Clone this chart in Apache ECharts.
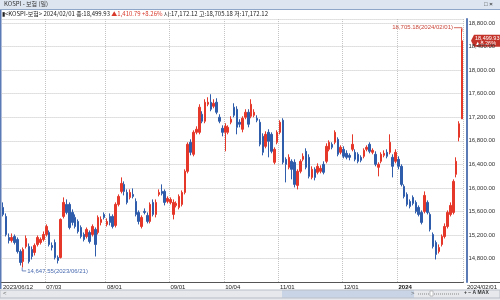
<!DOCTYPE html>
<html>
<head>
<meta charset="utf-8">
<script src="https://cdn.jsdelivr.net/npm/echarts@6/dist/echarts.min.js"></script>
<style>
html, body { margin: 0; padding: 0; background: #fff; }
#main { width: 500px; height: 300px; }
</style>
</head>
<body>
<div id="main"></div>
<script>
// trading days per month (KOSPI calendar)
var monthDays = [
    ['2023/06', [12,13,14,15,16,19,20,21,22,23,26,27,28,29,30]],
    ['2023/07', [3,4,5,6,7,10,11,12,13,14,17,18,19,20,21,24,25,26,27,28,31]],
    ['2023/08', [1,2,3,4,7,8,9,10,11,14,16,17,18,21,22,23,24,25,28,29,30,31]],
    ['2023/09', [1,4,5,6,7,8,11,12,13,14,15,18,19,20,21,22,25,26,27]],
    ['2023/10', [4,5,6,10,11,12,13,16,17,18,19,20,23,24,25,26,27,30,31]],
    ['2023/11', [1,2,3,6,7,8,9,10,13,14,15,16,17,20,21,22,23,24,27,28,29,30]],
    ['2023/12', [1,4,5,6,7,8,11,12,13,14,15,18,19,20,21,22,26,27,28]],
    ['2024/01', [2,3,4,5,8,9,10,11,12,15,16,17,18,19,22,23,24,25,26,29,30,31]],
    ['2024/02', [1]]
];

// x axis tick labels
var tickLabels = {
    '2023/06/12': '2023/06/12',
    '2023/07/03': '07/03',
    '2023/08/01': '08/01',
    '2023/09/01': '09/01',
    '2023/10/04': '10/04',
    '2023/11/01': '11/01',
    '2023/12/01': '12/01',
    '2024/01/02': '2024',
    '2024/02/01': '2024/02/01'
};

var opens = [
    15668,15515,15157,15106,15174,15123,14919,14749,15004,15004,
    14953,14902,15038,15072,15123,15208,15242,15021,15072,14817,
    14817,15515,15719,15719,15583,15498,15430,15327,15208,15174,
    15242,15208,15294,15242,15413,15549,15379,15515,15515,15362,
    15719,15940,16059,15923,15838,15889,15770,15583,15344,15600,
    15532,15430,15753,15549,15889,15940,15940,15770,15753,15549,
    15702,15668,15719,15923,16281,16774,16570,16944,16944,17251,
    17132,17421,17455,17387,17455,17200,17012,16944,16944,17115,
    17370,17336,17115,16996,17200,17285,17217,17234,17183,17115,
    16876,16706,16944,16910,16434,16774,16944,17149,16485,16349,
    16451,16434,16042,16281,16485,16621,16519,16178,16315,16264,
    16281,16400,16451,16655,16740,16774,16825,16604,16655,16587,
    16553,16655,16604,16570,16519,16536,16655,16740,16604,16570,
    16349,16451,16553,16604,16604,16519,16451,16485,16366,16025,
    15889,15770,15838,15753,15668,15583,15600,15753,15549,15208,
    15072,14919,15038,15174,15344,15549,15583,16230,16859,17172.12
];
var closes = [
    15549,15208,15106,15157,15072,14919,14732,14953,15140,14749,
    14834,15021,15157,15123,15208,15344,15038,14987,14817,14766,
    15464,15753,15583,15327,15413,15344,15259,15174,15123,15294,
    15089,15344,15038,15498,15464,15498,15430,15413,15344,15719,
    15855,16076,15940,15753,15923,15855,15549,15430,15498,15583,
    15430,15719,15549,15753,15923,15906,15753,15821,15804,15753,
    15736,15855,15923,16281,16740,16604,16944,16996,17370,17132,
    17455,17455,17336,17438,17285,17132,16944,17046,17029,17166,
    17234,17029,17081,17183,17285,17081,17421,17285,17149,16740,
    16604,16910,16791,16621,16655,16944,17115,16434,16400,16519,
    16315,16059,16281,16451,16536,16349,16196,16315,16178,16366,
    16332,16264,16706,16774,16689,16944,16570,16689,16536,16519,
    16519,16740,16485,16451,16468,16638,16689,16621,16638,16400,
    16400,16570,16587,16536,16774,16366,16604,16366,16059,15855,
    15719,15685,15736,15600,15549,15413,15872,15583,15294,15004,
    14868,14987,15174,15344,15583,15702,16110,16451,17089.14,18499.93
];
var lows = [
    15515,15174,15055,15072,15038,14885,14681,14647.55,14970,14715,
    14783,14851,15004,15038,15089,15174,15004,14936,14783,14715,
    14800,15481,15549,15294,15362,15310,15225,15140,15089,15140,
    15055,15174,14834,15208,15362,15464,15344,15362,15310,15327,
    15685,15906,15872,15719,15804,15821,15515,15379,15310,15549,
    15396,15396,15515,15498,15855,15872,15702,15736,15719,15464,
    15668,15634,15685,15889,16247,16553,16536,16910,16910,17098,
    17098,17387,17302,17353,17251,17098,16876,16621,16910,17081,
    17200,16910,17029,16944,17166,17029,17183,17200,17115,16706,
    16553,16672,16519,16587,16400,16740,16910,16400,16093,16315,
    16145,16008,15974,16247,16451,16315,16161,16145,16127,16230,
    16247,16230,16417,16621,16655,16740,16536,16570,16502,16485,
    16468,16621,16451,16417,16434,16502,16621,16587,16570,16366,
    16196,16417,16519,16502,16570,16178,16417,16315,16025,15821,
    15685,15651,15702,15566,15515,15379,15566,15549,15259,14970,
    14783,14885,15004,15140,15310,15515,15549,16178,16791,17172.12
];
var highs = [
    15753,15566,15225,15225,15208,15157,14953,14987,15191,15055,
    15004,15055,15191,15157,15259,15379,15276,15072,15123,14851,
    15481,15838,15804,15753,15634,15549,15464,15362,15242,15327,
    15276,15379,15327,15532,15515,15583,15481,15566,15549,15753,
    15889,16178,16110,15974,15974,15991,15821,15617,15532,15651,
    15583,15753,15804,15804,15974,16059,15974,15855,15838,15804,
    15770,15889,15957,16315,16774,16825,16978,17046,17421,17302,
    17506,17540,17591,17506,17523,17251,17063,17098,17063,17217,
    17438,17387,17166,17217,17336,17336,17506,17336,17234,17166,
    16927,16961,16996,16944,16689,16978,17149,17183,16519,16570,
    16485,16485,16315,16485,16587,16672,16570,16366,16349,16417,
    16383,16451,16757,16808,16774,16978,16859,16723,16706,16638,
    16587,16910,16655,16604,16553,16672,16723,16774,16672,16621,
    16434,16604,16638,16655,16910,16570,16655,16536,16400,16059,
    15923,15804,15872,15787,15702,15617,15940,15787,15583,15242,
    15106,15038,15208,15396,15617,15753,16145,16519,17132,18705.18
];

var dates = [];
monthDays.forEach(function (m) {
    m[1].forEach(function (d) {
        dates.push(m[0] + '/' + (d < 10 ? '0' + d : d));
    });
});

var candles = dates.map(function (d, i) {
    return [opens[i], closes[i], lows[i], highs[i]];
});

var RED = '#e5372a';
var BLUE = '#2f5cab';
var FONT = '"Noto Sans CJK KR", "Liberation Sans", sans-serif';
var NUMFONT = '"Liberation Sans", "DejaVu Sans", sans-serif';

function fmt(v) {
    return v.toLocaleString('en-US', {minimumFractionDigits: 2, maximumFractionDigits: 2});
}

var myChart = echarts.init(document.getElementById('main'));
var option = {
    animation: false,
    backgroundColor: '#fff',
    grid: { left: 1.5, right: 32, top: 19, bottom: 18 },
    xAxis: {
        type: 'category',
        data: dates,
        boundaryGap: true,
        axisLine: { lineStyle: { color: '#555', width: 1 } },
        axisTick: { inside: true, length: 2, interval: 3, lineStyle: { color: '#666' } },
        axisLabel: {
            interval: function (i, v) { return tickLabels[v] !== undefined; },
            formatter: function (v) {
                var t = tickLabels[v];
                if (t === '2024') return '{b|' + t + '}';
                if (v === '2024/02/01') return '{e|' + t + '}';
                return t;
            },
            align: 'left',
            margin: 2,
            fontSize: 6,
            fontFamily: NUMFONT,
            color: '#222',
            rich: {
                b: { fontSize: 6, fontWeight: 'bold', fontFamily: NUMFONT, color: '#111' },
                e: { fontSize: 6, fontFamily: NUMFONT, color: '#222', padding: [0, 0, 0, 5] }
            }
        },
        splitLine: {
            show: true,
            interval: function (i, v) {
                return tickLabels[v] !== undefined && i !== 0 && i !== dates.length - 1;
            },
            lineStyle: { type: 'dotted', color: '#c4c4c4' }
        }
    },
    yAxis: {
        type: 'value',
        position: 'right',
        offset: 3,
        min: 14400,
        max: 18870,
        interval: 400,
        axisLine: { show: true, lineStyle: { color: '#5a7bb5', width: 2 } },
        axisTick: { show: false },
        axisLabel: {
            showMinLabel: false,
            showMaxLabel: false,
            margin: 2,
            fontSize: 6,
            fontFamily: NUMFONT,
            color: '#333',
            formatter: fmt
        },
        splitLine: { lineStyle: { type: 'dotted', color: '#c4c4c4' } }
    },
    series: [{
        type: 'candlestick',
        data: candles,
        barWidth: 2,
        itemStyle: {
            color: RED,
            color0: BLUE,
            borderColor: RED,
            borderColor0: BLUE,
            borderWidth: 1
        }
    }],
    graphic: [
        // window title bar
        { type: 'rect', shape: { x: 0, y: 0, width: 500, height: 9 }, style: { fill: '#dce5f0' }, silent: true },
        { type: 'line', shape: { x1: 0, y1: 9.5, x2: 500, y2: 9.5 }, style: { stroke: '#8ea6c8', lineWidth: 1 } },
        { type: 'text', left: 4, top: 1, style: { text: 'KOSPI - 보험 (일)', font: '6px ' + FONT, fill: '#333' } },
        { type: 'text', left: 484, top: 1, style: { text: '□ ×', font: 'bold 6px ' + NUMFONT, fill: '#444' } },
        // info line
        {
            type: 'text', left: 2, top: 11,
            style: {
                text: '{k|▮<KOSPI-보험> 2024/02/01 종:18,499.93 }{r|▲1,410.79 +8.26%}{k| 시:17,172.12 고:18,705.18 저:17,172.12}',
                rich: {
                    k: { font: '6px ' + FONT, fill: '#222' },
                    r: { font: '6px ' + FONT, fill: '#d83a2c' }
                }
            }
        },
        // left window border
        { type: 'line', shape: { x1: 0.75, y1: 10, x2: 0.75, y2: 289 }, style: { stroke: '#5a7bb5', lineWidth: 1.5 } },
        // bottom axis continues under the y labels
        { type: 'line', shape: { x1: 470, y1: 282.5, x2: 500, y2: 282.5 }, style: { stroke: '#555', lineWidth: 1 } },
        // scroll bar
        { type: 'rect', shape: { x: 0, y: 290, width: 500, height: 10 }, style: { fill: '#e6e8ec' } },
        { type: 'rect', shape: { x: 282, y: 290, width: 132, height: 8 }, style: { fill: '#c9d5e6' } },
        { type: 'rect', shape: { x: 0, y: 290, width: 500, height: 8 }, style: { fill: 'none', stroke: '#b9bec6', lineWidth: 1 } },
        { type: 'text', left: 3, top: 290, style: { text: '<', font: '6px ' + NUMFONT, fill: '#666' } },
        { type: 'text', left: 411, top: 290, style: { text: '>', font: '6px ' + NUMFONT, fill: '#666' } },
        { type: 'line', shape: { x1: 418, y1: 294, x2: 460, y2: 294 }, style: { stroke: '#888', lineWidth: 1, lineDash: [1, 1] } },
        { type: 'rect', shape: { x: 430, y: 291, width: 3, height: 5 }, style: { fill: '#fff', stroke: '#888', lineWidth: 0.5 } },
        { type: 'text', left: 464, top: 290, style: { text: '+ − A MAX', font: 'bold 5px ' + NUMFONT, fill: '#333' } }
    ]
};
myChart.setOption(option);

// annotations positioned through the series' own coordinate system
var last = dates.length - 1;
var minIdx = 7;
var pHigh = myChart.convertToPixel({ seriesIndex: 0 }, [last, highs[last]]);
var pLow = myChart.convertToPixel({ seriesIndex: 0 }, [minIdx, lows[minIdx]]);
var pClose = myChart.convertToPixel({ seriesIndex: 0 }, [last, closes[last]]);

myChart.setOption({
    graphic: [
        {
            id: 'hiLine', type: 'polyline',
            shape: { points: [[pHigh[0] - 8, pHigh[1] - 1], [pHigh[0], pHigh[1] - 1], [pHigh[0], pHigh[1] + 3]] },
            style: { stroke: '#c9473a', lineWidth: 0.8, fill: 'none' }
        },
        {
            id: 'hiText', type: 'text', x: pHigh[0] - 9, y: pHigh[1] - 1,
            style: { text: fmt(highs[last]) + '(' + dates[last] + ')', font: '6px ' + NUMFONT, fill: '#c9473a', align: 'right', verticalAlign: 'middle' }
        },
        {
            id: 'loLine', type: 'polyline',
            shape: { points: [[pLow[0] - 1, pLow[1]], [pLow[0] - 1, pLow[1] + 3.5], [pLow[0] + 3, pLow[1] + 3.5]] },
            style: { stroke: '#4a6cb0', lineWidth: 0.8, fill: 'none' }
        },
        {
            id: 'loText', type: 'text', x: pLow[0] + 4, y: pLow[1] + 3.5,
            style: { text: fmt(lows[minIdx]) + '(' + dates[minIdx] + ')', font: '6px ' + NUMFONT, fill: '#4a6cb0', align: 'left', verticalAlign: 'middle' }
        },
        {
            id: 'curBox', type: 'polygon',
            shape: { points: [[471, pClose[1]], [474, pClose[1] - 6], [500, pClose[1] - 6], [500, pClose[1] + 6], [474, pClose[1] + 6]] },
            style: { fill: '#c4332a' }
        },
        {
            id: 'curText', type: 'text', x: 475, y: pClose[1] - 5.5,
            style: { text: fmt(closes[last]) + '\n▲8.26%', font: '5.5px ' + NUMFONT, fill: '#fff', lineHeight: 5.5 }
        }
    ]
});
</script>
</body>
</html>
